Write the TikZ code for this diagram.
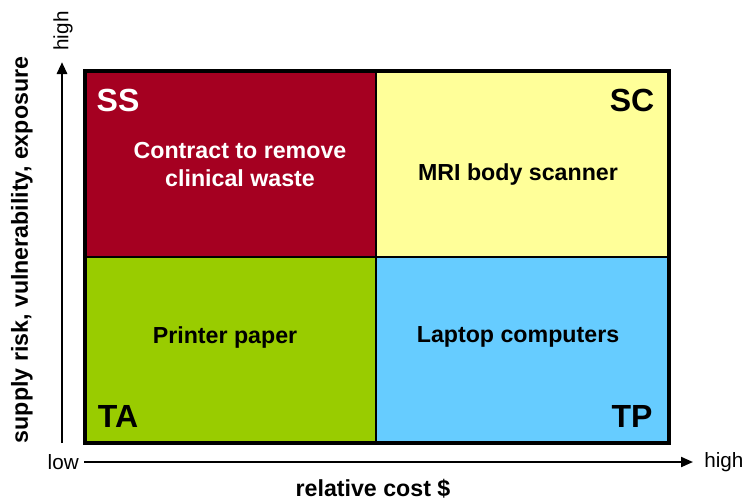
\documentclass[tikz,border=0pt]{standalone}
\usepackage{fontspec}
\setmainfont{Liberation Sans}
\usetikzlibrary{arrows.meta}
\definecolor{ssred}{HTML}{A50021}
\definecolor{scyellow}{HTML}{FFFF99}
\definecolor{tagreen}{HTML}{99CC00}
\definecolor{tpblue}{HTML}{66CCFF}
\tikzset{
  corner/.style={font=\bfseries\fontsize{24}{28}\selectfont, inner sep=0pt},
  celltext/.style={font=\bfseries\fontsize{17.4}{21}\selectfont, align=center, inner sep=0pt},
  axlab/.style={font=\fontsize{15.5}{18}\selectfont, inner sep=0pt},
  axtitle/.style={font=\bfseries\fontsize{17.4}{21}\selectfont, inner sep=0pt},
  axis/.style={-{Triangle[length=9pt,width=7.5pt]}}
}
\begin{document}
\begin{tikzpicture}[x=0.75pt,y=-0.75pt]
\useasboundingbox (0,0) rectangle (748,501);
% quadrants
\fill[ssred] (85,71) rectangle (376,257);
\fill[scyellow] (376,71) rectangle (669,257);
\fill[tagreen] (85,257) rectangle (376,443);
\fill[tpblue] (376,257) rectangle (669,443);
\draw[line width=1.5pt] (376,71) -- (376,443);
\draw[line width=1.5pt] (85,257) -- (669,257);
\draw[line width=3.4pt] (85,71) rectangle (669,443);
% labels
\node[corner, text=white] (ss) at (118,100) {SS};
\node[corner] (sc) at (632,100) {SC};
\node[corner] (ta) at (118,416) {TA};
\node[corner] (tp) at (632,416) {TP};
\node[celltext, text=white] (ssin) at (240,165) {Contract to remove\\clinical waste};
\node[celltext] (scin) at (518,174) {MRI body scanner};
\node[celltext] (tain) at (225,337) {Printer paper};
\node[celltext] (tpin) at (518,337) {Laptop computers};
% axes
\coordinate (yb) at (62,443);
\coordinate (yt) at (62,62);
\coordinate (xl) at (84,462);
\coordinate (xr) at (693,462);
\draw[axis, line width=2.2pt] (yb) -- (yt);
\draw[axis, line width=1.5pt] (xl) -- (xr);
\node[axlab, rotate=90] (yhigh) at (63,31) {high};
\node[axlab, anchor=east] (xlow) at (79,462) {low};
\node[axlab, anchor=west] (xhigh) at (704,462) {high};
\node[axtitle] (xtitle) at (373,489) {relative cost \$};
\node[axtitle, rotate=90] (ytitle) at (22,250) {supply risk, vulnerability, exposure};
\end{tikzpicture}
\end{document}
